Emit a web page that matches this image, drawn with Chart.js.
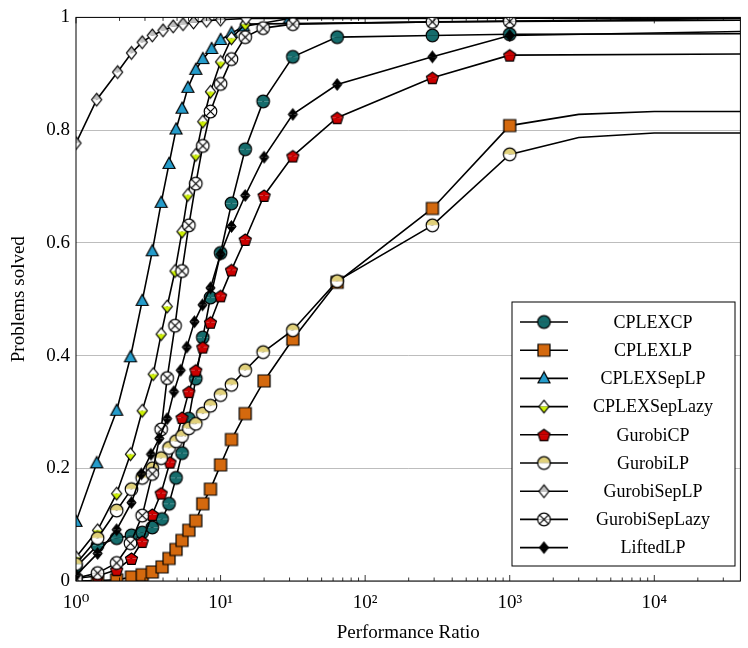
<!DOCTYPE html>
<html>
<head>
<meta charset="utf-8">
<script src="https://cdn.jsdelivr.net/npm/chart.js@4/dist/chart.umd.min.js"></script>
<style>
  html, body { margin: 0; padding: 0; background: #fff; }
  #wrap { width: 748px; height: 648px; }
</style>
</head>
<body>
<div id="wrap"><canvas id="myChart" width="748" height="648"></canvas></div>
<script>
/*========== DATA ==========*/
const xMax = 39400;
const xTickLabels = { 1: '10⁰', 10: '10¹', 100: '10²', 1000: '10³', 10000: '10⁴' };
const seriesNames = ['CPLEXCP', 'CPLEXLP', 'CPLEXSepLP', 'CPLEXSepLazy', 'GurobiCP', 'GurobiLP', 'GurobiSepLP', 'GurobiSepLazy', 'LiftedLP'];

const cplexCpX = [1, 1.41, 1.91, 2.42, 2.87, 3.37, 3.94, 4.4, 4.92, 5.41, 6.03, 6.74, 7.53, 8.51, 10, 11.9, 14.8, 19.7, 31.6, 64, 292, 1000, xMax];
const cplexCpY = [0.025, 0.063, 0.076, 0.081, 0.086, 0.095, 0.11, 0.137, 0.183, 0.227, 0.288, 0.359, 0.432, 0.503, 0.582, 0.67, 0.766, 0.851, 0.93, 0.965, 0.968, 0.97, 0.971];

const cplexLpX = [1, 1.41, 1.91, 2.42, 2.87, 3.37, 3.94, 4.4, 4.92, 5.41, 6.03, 6.74, 7.53, 8.51, 10, 11.9, 14.8, 20, 31.6, 64, 292, 1000, 3000, 10000, xMax];
const cplexLpY = [0, 0.001, 0.002, 0.007, 0.011, 0.016, 0.025, 0.04, 0.056, 0.072, 0.09, 0.107, 0.137, 0.163, 0.206, 0.251, 0.297, 0.355, 0.429, 0.53, 0.661, 0.808, 0.828, 0.833, 0.833];

const cplexSepLpX = [1, 1.39, 1.91, 2.38, 2.87, 3.37, 3.88, 4.4, 4.92, 5.41, 5.94, 6.74, 7.53, 8.67, 10, 11.9, 14.4, 30, xMax];
const cplexSepLpY = [0.105, 0.209, 0.302, 0.397, 0.497, 0.585, 0.671, 0.74, 0.801, 0.838, 0.875, 0.907, 0.926, 0.944, 0.96, 0.972, 0.984, 0.998, 0.999];

const cplexSepLazyX = [1, 1.41, 1.91, 2.38, 2.87, 3.42, 3.88, 4.27, 4.84, 5.41, 5.94, 6.74, 7.53, 8.51, 10, 11.9, 14.8, xMax];
const cplexSepLazyY = [0.042, 0.09, 0.155, 0.225, 0.302, 0.367, 0.438, 0.487, 0.55, 0.62, 0.685, 0.756, 0.815, 0.868, 0.921, 0.963, 0.988, 0.998];

const gurobiCpX = [1, 1.41, 1.91, 2.42, 2.87, 3.37, 3.88, 4.47, 5.41, 6.03, 6.74, 7.53, 8.51, 10, 11.9, 14.8, 20, 31.6, 64, 292, 1000, xMax];
const gurobiCpY = [0.005, 0.009, 0.02, 0.04, 0.07, 0.118, 0.156, 0.211, 0.29, 0.336, 0.374, 0.415, 0.459, 0.506, 0.552, 0.606, 0.684, 0.754, 0.822, 0.893, 0.933, 0.935];

const gurobiLpX = [1, 1.41, 1.91, 2.42, 2.87, 3.37, 3.88, 4.4, 4.92, 5.41, 6.03, 6.74, 7.53, 8.51, 10, 11.9, 14.8, 19.7, 31.6, 64, 292, 1000, 3000, 10000, xMax];
const gurobiLpY = [0.03, 0.076, 0.125, 0.163, 0.183, 0.2, 0.218, 0.236, 0.248, 0.257, 0.271, 0.279, 0.297, 0.311, 0.33, 0.348, 0.374, 0.406, 0.445, 0.532, 0.631, 0.757, 0.787, 0.795, 0.795];

const gurobiSepLpX = [1, 1.39, 1.94, 2.42, 2.87, 3.37, 4, 4.7, 5.5, 6.5, 8, 10, 15, xMax];
const gurobiSepLpY = [0.777, 0.854, 0.903, 0.937, 0.956, 0.968, 0.977, 0.984, 0.988, 0.991, 0.994, 0.996, 0.998, 0.999];

const gurobiSepLazyX = [1, 1.41, 1.91, 2.38, 2.87, 3.37, 3.88, 4.27, 4.84, 5.41, 6.03, 6.74, 7.53, 8.51, 10, 11.9, 14.8, 19.7, 31.6, 292, 1000, xMax];
const gurobiSepLazyY = [0.005, 0.014, 0.032, 0.067, 0.116, 0.19, 0.269, 0.36, 0.453, 0.55, 0.631, 0.705, 0.772, 0.833, 0.882, 0.926, 0.965, 0.981, 0.988, 0.992, 0.993, 0.995];

const liftedLpX = [1, 1.41, 1.91, 2.42, 2.83, 3.3, 3.77, 4.27, 4.76, 5.3, 5.84, 6.6, 7.5, 8.51, 10, 11.9, 14.8, 20, 31.6, 64, 292, 1000, xMax];
const liftedLpY = [0.01, 0.049, 0.091, 0.139, 0.19, 0.225, 0.253, 0.288, 0.336, 0.374, 0.415, 0.46, 0.49, 0.52, 0.58, 0.629, 0.684, 0.752, 0.828, 0.881, 0.93, 0.968, 0.975];

/*========== MARKER IMAGES ==========*/
function shapePath(g, shape, c, r) {
  g.beginPath();
  if (shape === 'circle' || shape === 'otimes') {
    g.arc(c, c, r, 0, Math.PI * 2);
  } else if (shape === 'square') {
    g.rect(c - r, c - r, 2 * r, 2 * r);
  } else if (shape === 'triangle') {
    g.moveTo(c, c - r * 1.1); g.lineTo(c + r, c + r * 0.75); g.lineTo(c - r, c + r * 0.75); g.closePath();
  } else if (shape === 'diamond') {
    g.moveTo(c, c - r); g.lineTo(c + r * 0.8, c); g.lineTo(c, c + r); g.lineTo(c - r * 0.8, c); g.closePath();
  } else if (shape === 'pentagon') {
    for (let i = 0; i < 5; i++) {
      const a = -Math.PI / 2 + i * 2 * Math.PI / 5;
      const px = c + r * Math.cos(a), py = c + r * Math.sin(a) + 0.8;
      i === 0 ? g.moveTo(px, py) : g.lineTo(px, py);
    }
    g.closePath();
  }
}

function makeMarker(shape, r, topFill, bottomFill) {
  const size = Math.ceil(2 * r + 4);
  const cv = document.createElement('canvas');
  cv.width = size; cv.height = size;
  const g = cv.getContext('2d');
  const c = size / 2;
  g.save(); g.beginPath(); g.rect(0, 0, size, c); g.clip();
  shapePath(g, shape, c, r); g.fillStyle = topFill; g.fill(); g.restore();
  g.save(); g.beginPath(); g.rect(0, c, size, size); g.clip();
  shapePath(g, shape, c, r); g.fillStyle = bottomFill; g.fill(); g.restore();
  shapePath(g, shape, c, r);
  g.lineWidth = 1.2; g.strokeStyle = '#000'; g.stroke();
  if (shape === 'otimes') {
    const d = r * 0.7;
    g.beginPath();
    g.moveTo(c - d, c - d); g.lineTo(c + d, c + d);
    g.moveTo(c + d, c - d); g.lineTo(c - d, c + d);
    g.stroke();
  }
  return cv;
}

const markers = [
  makeMarker('circle', 6.3, '#156c6c', '#156c6c'),
  makeMarker('square', 6, '#d4690e', '#d4690e'),
  makeMarker('triangle', 6, '#259ccb', '#259ccb'),
  makeMarker('diamond', 6.3, '#ffffff', '#ccf000'),
  makeMarker('pentagon', 6.3, '#cc0000', '#cc0000'),
  makeMarker('circle', 6.3, '#e0d07a', '#ffffff'),
  makeMarker('diamond', 6.3, '#bdbdbd', '#ffffff'),
  makeMarker('otimes', 6.3, '#ffffff', '#ffffff'),
  makeMarker('diamond', 5.5, '#000000', '#000000')
];

const xs = [cplexCpX, cplexLpX, cplexSepLpX, cplexSepLazyX, gurobiCpX, gurobiLpX, gurobiSepLpX, gurobiSepLazyX, liftedLpX];
const ys = [cplexCpY, cplexLpY, cplexSepLpY, cplexSepLazyY, gurobiCpY, gurobiLpY, gurobiSepLpY, gurobiSepLazyY, liftedLpY];

const datasets = seriesNames.map((name, i) => ({
  label: name,
  data: xs[i].map((x, k) => ({ x: x, y: ys[i][k] })),
  borderColor: '#000',
  borderWidth: 1.6,
  tension: 0,
  pointStyle: markers[i],
  // no markers on the tail past 10^3
  pointRadius: (c) => xs[i][c.dataIndex] > 1000 ? 0 : 6,
  order: 9 - i
}));

/*========== PLUGINS ==========*/
const frameLegend = {
  id: 'frameLegend',
  afterDraw(chart) {
    const ctx = chart.ctx;
    const a = chart.chartArea;
    const sx = chart.scales.x;
    ctx.save();
    ctx.strokeStyle = '#000'; ctx.lineWidth = 0.8;
    for (let e = 0; e < 5; e++) {
      for (let m = 1; m < 10; m++) {
        const v = m * Math.pow(10, e);
        if (v > xMax) continue;
        const px = sx.getPixelForValue(v);
        const len = m === 1 ? 6 : 3.5;
        ctx.beginPath();
        ctx.moveTo(px, a.bottom); ctx.lineTo(px, a.bottom - len);
        ctx.moveTo(px, a.top); ctx.lineTo(px, a.top + len);
        ctx.stroke();
      }
    }
    ctx.lineWidth = 1; ctx.strokeRect(a.left, a.top, a.right - a.left, a.bottom - a.top);
    // legend box
    const bx = 512, by = 302, bw = 223, bh = 264;
    ctx.fillStyle = '#fff'; ctx.fillRect(bx, by, bw, bh);
    ctx.strokeRect(bx, by, bw, bh);
    ctx.font = '18px "Liberation Serif", "DejaVu Serif", serif';
    ctx.textBaseline = 'middle'; ctx.textAlign = 'center';
    seriesNames.forEach((n, i) => {
      const yy = by + 20 + i * 28.2;
      ctx.strokeStyle = '#000'; ctx.lineWidth = 1.6;
      ctx.beginPath(); ctx.moveTo(bx + 8, yy); ctx.lineTo(bx + 56, yy); ctx.stroke();
      const m = markers[i];
      ctx.drawImage(m, bx + 32 - m.width / 2, yy - m.height / 2);
      ctx.fillStyle = '#000';
      ctx.fillText(n, bx + 141, yy + 1);
    });
    ctx.restore();
  }
};

/*========== CHART ==========*/
const font = { family: '"Liberation Serif", "DejaVu Serif", serif', size: 19 };
new Chart(document.getElementById('myChart').getContext('2d'), {
  type: 'line',
  data: { datasets: datasets },
  options: {
    animation: false,
    responsive: false,
    layout: { padding: { left: 8, right: 1, top: 12, bottom: 0 } },
    plugins: { legend: { display: false }, tooltip: { enabled: false } },
    scales: {
      x: {
        type: 'logarithmic',
        min: 1, max: xMax,
        afterFit: (s) => { s.height = 67; },
        grid: { display: false },
        border: { display: false },
        ticks: {
          color: '#000', font: font, maxRotation: 0, autoSkip: false, padding: 3,
          callback: (v) => xTickLabels[v] || ''
        },
        title: { display: true, text: 'Performance Ratio', color: '#000', font: font, padding: { top: 2 } }
      },
      y: {
        min: 0, max: 1,
        afterFit: (s) => { s.width = 68; },
        grid: { color: '#bdbdbd', lineWidth: 1, drawTicks: false },
        border: { display: false },
        ticks: {
          stepSize: 0.2, color: '#000', font: font, padding: 6,
          callback: (v) => (Math.round(v * 10) / 10).toString()
        },
        title: { display: true, text: 'Problems solved', color: '#000', font: font, padding: 0 }
      }
    }
  },
  plugins: [frameLegend]
});
</script>
</body>
</html>
